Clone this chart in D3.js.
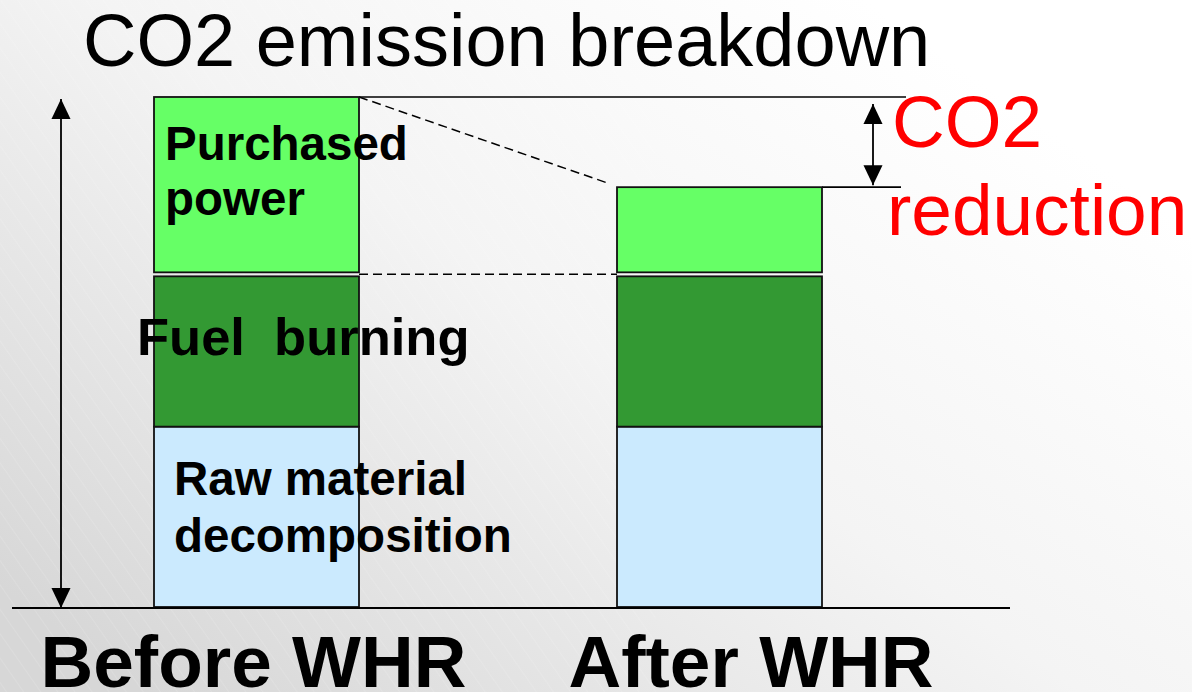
<!DOCTYPE html>
<html>
<head>
<meta charset="utf-8">
<script src="https://cdn.jsdelivr.net/npm/d3@7"></script>
<style>
  html, body { margin: 0; padding: 0; background: #fff; }
  svg { display: block; font-family: "Liberation Sans", Arial, Helvetica, sans-serif; }
</style>
</head>
<body>
<svg id="chart" width="1192" height="692"></svg>
<script>
// ---- data ----
const categories = ["Before WHR", "After WHR"];
const rawMaterial = [36, 36];
const fuelBurning = [30, 30];
const purchasedPower = [35, 17];
const seriesNames = ["Raw material decomposition", "Fuel burning", "Purchased power"];
const title = "CO2 emission breakdown";
const reductionLabel = ["CO2", "reduction"];

// ---- layout ----
const W = 1192, H = 692;
const baseY = 607;
const gap = 4;          // visual gap between fuel and purchased segments
const barW = 205;
const colors = ["#cbeafe", "#339933", "#66ff66"];

const svg = d3.select("#chart");

// background gradient
const defs = svg.append("defs");
const grad = defs.append("linearGradient").attr("id", "bg")
  .attr("x1", "0").attr("y1", "0.85").attr("x2", "0.85").attr("y2", "0.15");
grad.append("stop").attr("offset", "0").attr("stop-color", "#d7d7d7");
grad.append("stop").attr("offset", "0.55").attr("stop-color", "#f4f4f4");
grad.append("stop").attr("offset", "1").attr("stop-color", "#ffffff");
const pat = defs.append("pattern").attr("id", "stripes").attr("width", 14).attr("height", 14)
  .attr("patternUnits", "userSpaceOnUse").attr("patternTransform", "rotate(-35)");
pat.append("line").attr("x1", 0).attr("y1", 0).attr("x2", 0).attr("y2", 14)
  .attr("stroke", "#ffffff").attr("stroke-width", 1).attr("stroke-opacity", 0.25);
svg.append("rect").attr("width", W).attr("height", H).attr("fill", "url(#bg)");
svg.append("rect").attr("width", W * 0.55).attr("height", H).attr("fill", "url(#stripes)");

// markers
function arrowMarker(id, orient) {
  defs.append("marker").attr("id", id)
    .attr("viewBox", "0 0 20 21").attr("refX", 21).attr("refY", 10)
    .attr("markerWidth", 21).attr("markerHeight", 20)
    .attr("markerUnits", "userSpaceOnUse").attr("orient", orient)
    .append("path").attr("d", "M0,0 L21,10 L0,20 Z").attr("fill", "#000");
}
arrowMarker("arrowEnd", "auto");
arrowMarker("arrowStart", "auto-start-reverse");

// scales
const x = d3.scalePoint().domain(categories).range([256.5, 719.5]);
const y = d3.scaleLinear().domain([0, 100]).range([baseY, baseY - 501]);
const h = v => y(0) - y(v);

// build stacked segments
const segs = [];
categories.forEach((c, i) => {
  const r0 = baseY, r1 = r0 - h(rawMaterial[i]);
  const f1 = r1 - h(fuelBurning[i]);
  const p0 = f1 - gap, p1 = p0 - h(purchasedPower[i]);
  segs.push({cat: c, s: 0, top: r1, bot: r0});
  segs.push({cat: c, s: 1, top: f1, bot: r1});
  segs.push({cat: c, s: 2, top: p1, bot: p0});
});

const bx = c => x(c) - barW / 2;

// guide lines
const tops = categories.map((c, i) => segs.find(d => d.cat === c && d.s === 2));
const g = svg.append("g");
// solid horizontal lines
g.append("line").attr("x1", bx(categories[0]) + barW).attr("x2", 906)
  .attr("y1", tops[0].top).attr("y2", tops[0].top)
  .attr("stroke", "#000").attr("stroke-width", 1.6);
g.append("line").attr("x1", bx(categories[1]) + barW).attr("x2", 901)
  .attr("y1", tops[1].top).attr("y2", tops[1].top)
  .attr("stroke", "#000").attr("stroke-width", 1.6);
// dashed lines
g.append("line").attr("x1", bx(categories[0]) + barW).attr("y1", tops[0].top)
  .attr("x2", bx(categories[1]) - 9).attr("y2", tops[1].top - 4)
  .attr("stroke", "#000").attr("stroke-width", 1.5).attr("stroke-dasharray", "9,5");
g.append("line").attr("x1", bx(categories[0]) + barW).attr("y1", tops[0].bot + gap / 2)
  .attr("x2", bx(categories[1])).attr("y2", tops[1].bot + gap / 2)
  .attr("stroke", "#000").attr("stroke-width", 1.5).attr("stroke-dasharray", "9,5");

// bars
svg.append("g").selectAll("rect").data(segs).join("rect")
  .attr("x", d => bx(d.cat)).attr("width", barW)
  .attr("y", d => d.top).attr("height", d => d.bot - d.top)
  .attr("fill", d => colors[d.s]).attr("stroke", "#111").attr("stroke-width", 1.8);

// baseline
svg.append("line").attr("x1", 12).attr("x2", 1010).attr("y1", baseY + 1).attr("y2", baseY + 1)
  .attr("stroke", "#000").attr("stroke-width", 2.2);

// left total arrow
svg.append("line").attr("x1", 61).attr("x2", 61).attr("y1", tops[0].top + 2).attr("y2", baseY + 1)
  .attr("stroke", "#000").attr("stroke-width", 1.8)
  .attr("marker-start", "url(#arrowStart)").attr("marker-end", "url(#arrowEnd)");

// reduction double arrow
svg.append("line").attr("x1", 873).attr("x2", 873).attr("y1", tops[0].top + 7).attr("y2", tops[1].top - 2)
  .attr("stroke", "#000").attr("stroke-width", 1.8)
  .attr("marker-start", "url(#arrowStart)").attr("marker-end", "url(#arrowEnd)");

// title
svg.append("text").attr("x", 83).attr("y", 66)
  .attr("font-size", 74).attr("fill", "#000").text(title);

// reduction label
svg.append("text").attr("x", 892).attr("y", 147).attr("font-size", 73).attr("fill", "#ff0000")
  .text(reductionLabel[0]);
svg.append("text").attr("x", 887).attr("y", 235).attr("font-size", 73).attr("fill", "#ff0000")
  .text(reductionLabel[1]);

// segment labels (on the first bar)
const b0 = bx(categories[0]);
const lab = svg.append("g").attr("font-weight", "bold").attr("fill", "#000");
lab.append("text").attr("x", b0 + 11).attr("y", 160).attr("font-size", 47.5).text("Purchased");
lab.append("text").attr("x", b0 + 11).attr("y", 215).attr("font-size", 47.5).text("power");
lab.append("text").attr("x", b0 - 17).attr("y", 355).attr("font-size", 52.5)
  .style("white-space", "pre").text("Fuel  burning");
lab.append("text").attr("x", b0 + 20).attr("y", 495).attr("font-size", 47.5).text("Raw material");
lab.append("text").attr("x", b0 + 20).attr("y", 552).attr("font-size", 47.5).text("decomposition");

// category labels
const catOffsets = [-216, -151];
svg.append("g").selectAll("text").data(categories).join("text")
  .attr("x", (d, i) => x(d) + catOffsets[i]).attr("y", 687)
  .attr("font-size", 73).attr("font-weight", "bold").attr("fill", "#000")
  .text(d => d);
</script>
</body>
</html>
